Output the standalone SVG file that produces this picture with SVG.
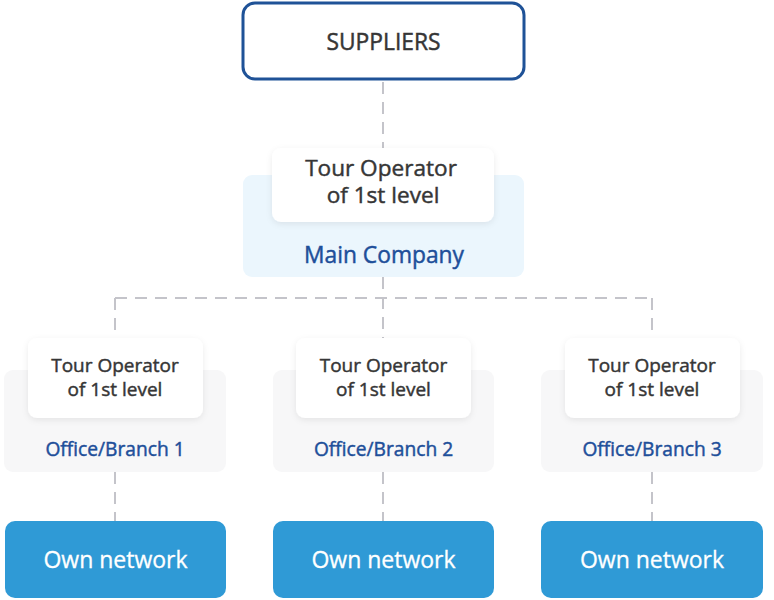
<svg xmlns="http://www.w3.org/2000/svg" width="774" height="600" viewBox="0 0 774 600">
<defs>
<filter id="sh" x="-20%" y="-20%" width="140%" height="150%">
<feDropShadow dx="0" dy="2" stdDeviation="3" flood-color="#000" flood-opacity="0.08"/>
</filter>
<style>
.t{font-family:"Open Sans","Noto Sans","Liberation Sans",sans-serif;text-anchor:middle;dominant-baseline:central;font-weight:400;stroke-width:0.45}
.dark{fill:#363636;stroke:#363636}
.blue{fill:#1e4f9a;stroke:#1e4f9a}
.white{fill:#fff;stroke:#fff;stroke-width:0.3}
.card{fill:#fff;filter:url(#sh)}
.dash{stroke:#c4c4ca;stroke-width:2;stroke-dasharray:12 8;fill:none}
.net{fill:#2f9ad6}
</style>
</defs>
<rect width="774" height="600" fill="#fff"/>
<g id="connectors">
<path class="dash" d="M383 82V150"/>
<path class="dash" d="M383 277V340"/>
<path class="dash" d="M115 298H652"/>
<path class="dash" d="M115 298V340"/>
<path class="dash" d="M652 298V340"/>
<path class="dash" d="M115 472V521"/>
<path class="dash" d="M383 472V521"/>
<path class="dash" d="M652 472V521"/>
</g>
<g id="suppliers">
<rect x="243" y="3" width="281" height="76" rx="12" fill="#fff" stroke="#1f5297" stroke-width="3"/>
<text class="t dark" x="383.5" y="41" font-size="22.8">SUPPLIERS</text>
</g>
<g id="main">
<rect x="243" y="175" width="281" height="102" rx="9" fill="#ebf6fd"/>
<rect class="card" x="272" y="148" width="222" height="74" rx="9"/>
<text class="t dark" x="381" y="167" font-size="22.6">Tour Operator</text>
<text class="t dark" x="383" y="194" font-size="22.6">of 1st level</text>
<text class="t blue" x="384" y="254" font-size="22.8">Main Company</text>
</g>
<g id="branch1">
<rect x="4" y="370" width="222" height="102" rx="9" fill="#f7f7f8"/>
<rect class="card" x="28" y="338" width="175" height="80" rx="9"/>
<text class="t dark" x="115" y="365" font-size="19">Tour Operator</text>
<text class="t dark" x="115" y="389" font-size="19">of 1st level</text>
<text class="t blue" x="115" y="448" font-size="19.2">Office/Branch 1</text>
</g>
<g id="branch2">
<rect x="273" y="370" width="221" height="102" rx="9" fill="#f7f7f8"/>
<rect class="card" x="296" y="338" width="175" height="80" rx="9"/>
<text class="t dark" x="383.5" y="365" font-size="19">Tour Operator</text>
<text class="t dark" x="383.5" y="389" font-size="19">of 1st level</text>
<text class="t blue" x="383.5" y="448" font-size="19.2">Office/Branch 2</text>
</g>
<g id="branch3">
<rect x="541" y="370" width="222" height="102" rx="9" fill="#f7f7f8"/>
<rect class="card" x="565" y="338" width="175" height="80" rx="9"/>
<text class="t dark" x="652" y="365" font-size="19">Tour Operator</text>
<text class="t dark" x="652" y="389" font-size="19">of 1st level</text>
<text class="t blue" x="652" y="448" font-size="19.2">Office/Branch 3</text>
</g>
<g id="net1">
<rect class="net" x="5" y="521" width="221" height="77" rx="10"/>
<text class="t white" x="115.5" y="559" font-size="23">Own network</text>
</g>
<g id="net2">
<rect class="net" x="273" y="521" width="221" height="77" rx="10"/>
<text class="t white" x="383.5" y="559" font-size="23">Own network</text>
</g>
<g id="net3">
<rect class="net" x="541" y="521" width="222" height="77" rx="10"/>
<text class="t white" x="652" y="559" font-size="23">Own network</text>
</g>
</svg>
